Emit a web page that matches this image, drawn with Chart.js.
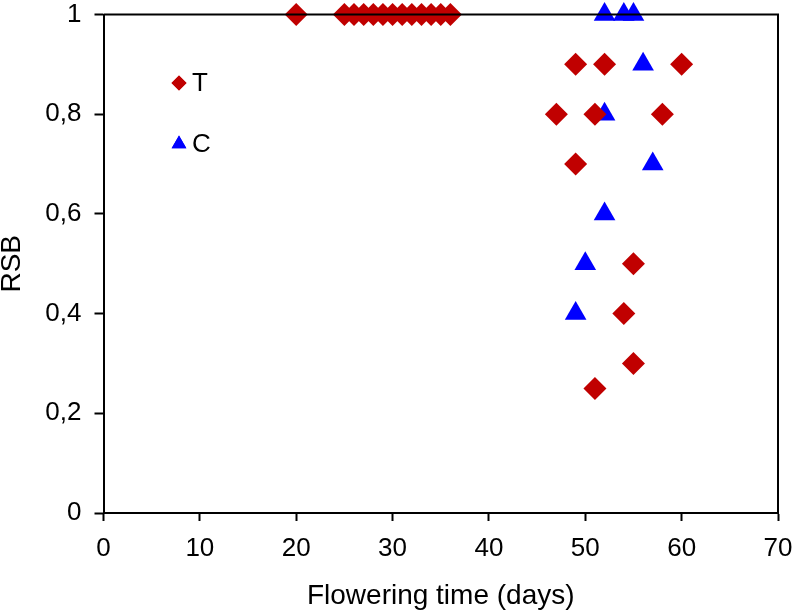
<!DOCTYPE html>
<html>
<head>
<meta charset="utf-8">
<script src="https://cdn.jsdelivr.net/npm/chart.js@4/dist/chart.umd.min.js"></script>
<style>
  html, body { margin: 0; padding: 0; background: #fff; }
  #wrap { width: 797px; height: 614px; }
</style>
</head>
<body>
<div id="wrap"><canvas id="chart" width="797" height="614"></canvas></div>
<script>
// --- data ---
const tDays = [20, 25, 26, 27, 28, 29, 30, 31, 32, 33, 34, 35, 36, 49, 52, 60, 47, 51, 58, 49, 55, 54, 55, 51];
const tRsb  = [1, 1, 1, 1, 1, 1, 1, 1, 1, 1, 1, 1, 1, 0.9, 0.9, 0.9, 0.8, 0.8, 0.8, 0.7, 0.5, 0.4, 0.3, 0.25];
const cDays = [52, 54, 55, 56, 52, 57, 52, 50, 49];
const cRsb  = [1, 1, 1, 0.9, 0.8, 0.7, 0.6, 0.5, 0.4];
const xTicks = [0, 10, 20, 30, 40, 50, 60, 70];
const yTicks = [0, 0.2, 0.4, 0.6, 0.8, 1];
const yTickLabels = ['0', '0,2', '0,4', '0,6', '0,8', '1'];

const FONT = '"Liberation Sans", Arial, sans-serif';

function toPoints(xs, ys) {
    return xs.map((x, i) => ({ x: x, y: ys[i] }));
}

// frame on top/right + legend in the upper left of the plot
const framePlugin = {
    id: 'frame',
    afterDraw(chart) {
        const { ctx, chartArea: a } = chart;
        ctx.save();
        ctx.strokeStyle = '#000';
        ctx.lineWidth = 2;
        ctx.beginPath();
        ctx.moveTo(a.left, a.top);
        ctx.lineTo(a.right, a.top);
        ctx.lineTo(a.right, a.bottom);
        ctx.stroke();
        ctx.restore();

        // legend
        const items = [
            { ds: chart.data.datasets[0], x: 179, y: 83, r: 7.5 },
            { ds: chart.data.datasets[1], x: 179, y: 144, r: 8.5 }
        ];
        items.forEach(it => {
            ctx.save();
            ctx.fillStyle = it.ds.backgroundColor;
            Chart.helpers.drawPoint(ctx, { pointStyle: it.ds.pointStyle, radius: it.r, borderWidth: 0 }, it.x, it.y);
            ctx.fill();
            ctx.fillStyle = '#000';
            ctx.font = '26px ' + FONT;
            ctx.textBaseline = 'middle';
            ctx.fillText(it.ds.label, it.x + 13, it.y + 1);
            ctx.restore();
        });
    }
};

new Chart(document.getElementById('chart'), {
    type: 'scatter',
    data: {
        datasets: [
            {
                label: 'T',
                data: toPoints(tDays, tRsb),
                pointStyle: 'rectRot',
                pointRadius: 11.5,
                pointHoverRadius: 11.5,
                backgroundColor: '#c00000',
                borderColor: '#c00000',
                borderWidth: 0
            },
            {
                label: 'C',
                data: toPoints(cDays, cRsb),
                pointStyle: 'triangle',
                pointRadius: 12.5,
                pointHoverRadius: 12.5,
                backgroundColor: '#0000ff',
                borderColor: '#0000ff',
                borderWidth: 0
            }
        ]
    },
    options: {
        responsive: false,
        animation: false,
        clip: false,
        layout: { padding: { top: 14.5, right: 19, bottom: 0, left: 0 } },
        plugins: {
            legend: { display: false },
            tooltip: { enabled: false }
        },
        scales: {
            x: {
                type: 'linear',
                min: 0,
                max: 70,
                afterBuildTicks: s => { s.ticks = xTicks.map(v => ({ value: v })); },
                afterFit: s => { s.height = 101; s.paddingLeft = 0; s.paddingRight = 0; },
                ticks: { color: '#000', font: { family: FONT, size: 26 }, padding: 12 },
                grid: { drawOnChartArea: false, drawTicks: true, tickLength: 8, tickWidth: 2, tickColor: '#000' },
                border: { display: true, color: '#000', width: 2 },
                title: { display: true, text: 'Flowering time (days)', color: '#000', font: { family: FONT, size: 28 }, padding: { top: 0, bottom: 1 } }
            },
            y: {
                type: 'linear',
                min: 0,
                max: 1,
                afterBuildTicks: s => { s.ticks = yTicks.map(v => ({ value: v })); },
                afterFit: s => { s.width = 103.5; s.paddingTop = 0; s.paddingBottom = 0; },
                ticks: {
                    color: '#000',
                    font: { family: FONT, size: 26 },
                    padding: 13,
                    callback: (v, i) => yTickLabels[i]
                },
                grid: { drawOnChartArea: false, drawTicks: true, tickLength: 9, tickWidth: 2, tickColor: '#000' },
                border: { display: true, color: '#000', width: 2 },
                title: { display: true, text: 'RSB', color: '#000', font: { family: FONT, size: 28, lineHeight: 0.9 }, padding: { top: 0, bottom: 0 } }
            }
        }
    },
    plugins: [framePlugin]
});
</script>
</body>
</html>
